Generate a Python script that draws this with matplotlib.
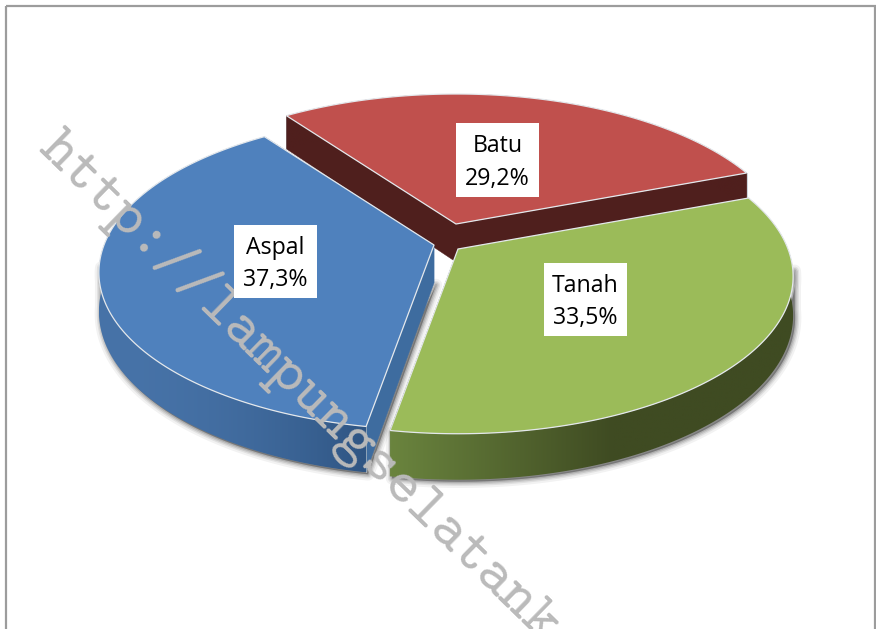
import numpy as np
import matplotlib
matplotlib.use('Agg')
import matplotlib.pyplot as plt
from matplotlib.colors import to_rgb
from matplotlib.patches import Rectangle, Polygon

categories = ['Batu', 'Tanah', 'Aspal']
percent = [29.2, 33.5, 37.3]
percent_labels = ['29,2%', '33,5%', '37,3%']

top_colors = ['#C0504D', '#9BBB59', '#4F81BD']
side_colors = ['#4F1F1D', '#3F4B22', '#3E6C9F']
# wall gradient, left end -> right end
wall_left = ['#4F1F1D', '#6A843E', '#4773A8']
wall_right = ['#4F1F1D', '#3F4B22', '#2F5583']
wall_span = [(0, 1), (392, 612), (100, 365)]
wall_power = [1, 1, 2]

apex = [(456, 224), (458, 249), (434, 245)]
label_boxes = [(456, 123, 83, 74), (544, 263, 83, 73), (234, 225, 83, 73)]

start_angle = 125.9
rx, ry, k = 330, 152.6, 0.174
depth = 38


def project(center, ang):
    u = np.cos(np.radians(ang))
    v = -np.sin(np.radians(ang))
    s = 1 / (1 - k * v)
    return center[0] + rx * u * s, center[1] + ry * v * s, s


def mix(c1, c2, t):
    c1, c2 = np.array(to_rgb(c1)), np.array(to_rgb(c2))
    return c1 + (c2 - c1) * t


fig = plt.figure(figsize=(8.76, 6.29), dpi=100)
ax = fig.add_axes([0, 0, 1, 1])
ax.axis('off')

ax.add_patch(Rectangle((5.5, 6), 869, 700, fill=False, ec='#9c9c9c', lw=1.6))

# start/end angle of every slice, clockwise
edges = start_angle - np.cumsum([0] + percent) * 3.6

for i in [0, 2, 1]:
    a0, a1 = edges[i], edges[i + 1]
    angs = np.linspace(a0, a1, 160)
    c = apex[i]
    x, y, s = project(c, angs)
    yb = y + depth * s
    xa = np.r_[c[0], x]
    ya = np.r_[c[1], y]

    # soft shadow under the front part of the solid
    front = np.sin(np.radians(angs)) < -0.12
    if front.any() and i > 0:
        xf, yf, ybf = x[front], y[front], yb[front]
        if i == 2:
            xw = np.r_[c[0], xf, xf[::-1]]
            yw = np.r_[c[1] + depth, ybf, yf[::-1]]
        else:
            xw = np.r_[xf, xf[::-1]]
            yw = np.r_[ybf, yf[::-1]]
        for lw, al in zip([9, 6, 4, 2], [0.05, 0.07, 0.10, 0.13]):
            ax.fill(xw + 2, yw + 2, color='k', alpha=al, lw=lw, joinstyle='round', zorder=2 + i)

    # radial walls
    ends = [(x[0], y[0], s[0]), (x[-1], y[-1], s[-1])]
    for ex, ey, es in ends:
        ax.fill([c[0], ex, ex, c[0]], [c[1], ey, ey + depth * es, c[1] + depth],
                color=side_colors[i], lw=0.3, zorder=2 + i + 0.2)
        ax.plot([ex, ex], [ey, ey + depth * es], color='#b9c4cc', lw=0.7, alpha=0.7, zorder=2 + i + 0.3)

    # outer wall, horizontal gradient clipped to its outline
    grad_x = np.linspace(x.min(), x.max(), 300)
    t = np.clip((grad_x - wall_span[i][0]) / (wall_span[i][1] - wall_span[i][0]), 0, 1) ** wall_power[i]
    grad = np.array([mix(wall_left[i], wall_right[i], v) for v in t])[np.newaxis, :, :]
    im = ax.imshow(grad, extent=(x.min(), x.max(), yb.max(), y.min()), aspect='auto',
                   interpolation='bilinear', zorder=2 + i + 0.4)
    clip = Polygon(np.c_[np.r_[x, x[::-1]], np.r_[y, yb[::-1]]], closed=True, transform=ax.transData)
    im.set_clip_path(clip)

    # top face
    ax.fill(xa, ya, color=top_colors[i], ec='#e4e8ec', lw=0.9, zorder=2 + i + 0.5)

ax.set_xlim(0, 876)
ax.set_ylim(629, 0)

ax.text(37, 150, 'http://lampungselatank', family='cmtt10', fontsize=44,
        color='#bababa', rotation=-44.3, rotation_mode='anchor', ha='left', va='baseline', zorder=8)

for name, pct, box in zip(categories, percent_labels, label_boxes):
    ax.add_patch(Rectangle((box[0], box[1]), box[2], box[3], fc='white', ec='none', zorder=9))
    ax.text(box[0] + box[2] / 2, box[1] + box[3] * 0.31, name, family='Open Sans', fontsize=16.7,
            ha='center', va='center', color='black', zorder=10)
    ax.text(box[0] + box[2] / 2, box[1] + box[3] * 0.75, pct, family='Open Sans', fontsize=16.7,
            ha='center', va='center', color='black', zorder=10)

fig.savefig('out.png', dpi=100)
